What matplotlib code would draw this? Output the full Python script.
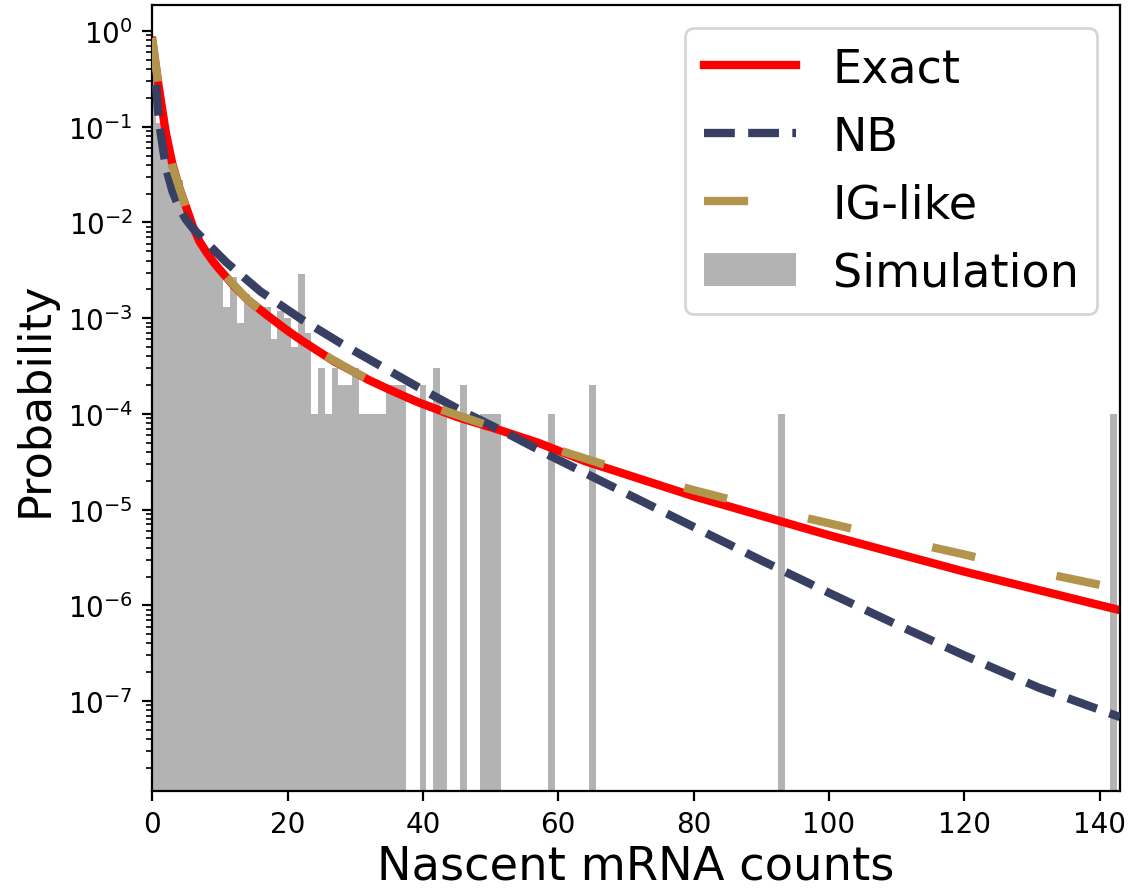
import matplotlib
matplotlib.use("Agg")
import matplotlib.pyplot as plt
import numpy as np

# simulated histogram (fraction of cells per nascent count)
sim_n = [0, 1, 2, 3, 4, 5, 6, 7, 8, 9, 10, 11, 12, 13, 14, 15, 16, 17, 18, 19,
         20, 21, 22, 23, 24, 25, 26, 27, 28, 29, 30, 31, 32, 33, 34, 35, 36, 37,
         40, 42, 43, 46, 49, 50, 51, 59, 65, 93, 142]
sim_p = [0.72, 0.11, 0.048, 0.033, 0.028, 0.0135, 0.0092, 0.0064, 0.0049, 0.0041,
         0.0033, 0.0013, 0.0027, 0.0009, 0.0018, 0.0015, 0.0013, 0.0013, 0.0006, 0.0012,
         0.0010, 0.0005, 0.0029, 0.0007, 0.0001, 0.0003, 0.0001, 0.0003, 0.0002, 0.0002,
         0.0003, 0.0001, 0.0001, 0.0001, 0.0001, 0.0002, 0.0002, 0.0002,
         0.0002, 0.0003, 0.0001, 0.0002, 0.0001, 0.0001, 0.0001, 0.0001, 0.0002, 0.0001, 0.0001]

# exact solution
exact_n = [0, 1, 2, 3, 4, 5, 6, 7, 8, 9, 10, 12, 14, 17, 20, 22, 25, 27, 30, 32,
           35, 39, 45, 51, 57, 64, 80, 100, 120, 143]
exact_p = [0.79, 0.25, 0.087, 0.040, 0.023, 0.0145, 0.0091, 0.0063, 0.0049, 0.0039,
           0.0032, 0.0022, 0.00158, 0.00107, 7.4e-4, 5.9e-4, 4.3e-4, 3.5e-4, 2.7e-4, 2.26e-4,
           1.8e-4, 1.35e-4, 9.3e-5, 6.9e-5, 5.0e-5, 3.2e-5, 1.38e-5, 5.4e-6, 2.25e-6, 8.9e-7]

# negative binomial approximation
nb_n = [0, 1, 2, 3, 4, 5, 6, 8, 11, 16, 22, 28, 34, 40, 46, 52, 58, 64, 72, 80,
        90, 100, 110, 120, 131, 143]
nb_p = [0.79, 0.112, 0.038, 0.021, 0.0141, 0.0107, 0.0087, 0.0062, 0.0038, 0.0019,
        9.8e-4, 5.4e-4, 3.1e-4, 1.78e-4, 1.05e-4, 6.5e-5, 3.9e-5, 2.4e-5, 1.26e-5, 6.6e-6,
        2.95e-6, 1.35e-6, 6.3e-7, 3.0e-7, 1.38e-7, 6.8e-8]

# inverse-gaussian-like approximation
ig_n = [0, 1, 2, 3, 4, 5, 6, 8, 10, 14, 20, 25, 30, 35, 40, 50, 60, 70, 80, 90,
        100, 110, 120, 130, 143]
ig_p = [0.85, 0.24, 0.083, 0.038, 0.023, 0.0141, 0.0091, 0.0049, 0.0032, 0.00158,
        7.4e-4, 4.3e-4, 2.7e-4, 1.8e-4, 1.29e-4, 7.4e-5, 4.2e-5, 2.5e-5, 1.6e-5, 1.05e-5,
        7.2e-6, 4.9e-6, 3.4e-6, 2.3e-6, 1.48e-6]

fig, ax = plt.subplots(figsize=(5.66, 4.475), dpi=200)
fig.subplots_adjust(left=0.1345, right=0.9894, top=0.9933, bottom=0.1151)

sim = ax.bar(sim_n, sim_p, width=1.0, color="#b3b3b3", linewidth=0, zorder=1)
l_exact, = ax.plot(exact_n, exact_p, color="red", lw=3, zorder=2)
l_nb, = ax.plot(nb_n, nb_p, color="#373f62", lw=3, ls="--", zorder=3)
l_ig, = ax.plot(ig_n, ig_p, color="#b3944c", lw=3, ls=(0, (5.3, 10)), zorder=4)

ax.set_yscale("log")
ax.set_xlim(0, 143)
ax.set_ylim(1.15e-8, 1.87)
ax.set_xlabel("Nascent mRNA counts", fontsize=16.7, labelpad=2)
ax.set_ylabel("Probability", fontsize=16)

ax.legend([l_exact, l_nb, l_ig, sim], ["Exact", "NB", "IG-like", "Simulation"],
          loc="upper right", fontsize=16.6)

fig.savefig("out.png", dpi=200)
